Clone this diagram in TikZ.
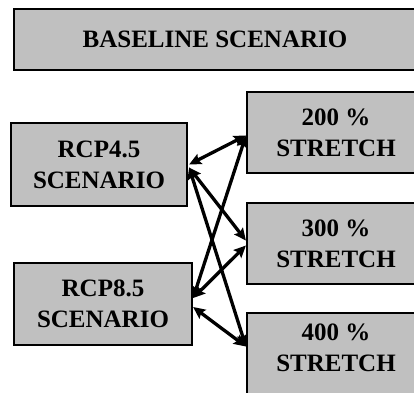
\documentclass[tikz,border=0pt]{standalone}
\usepackage{fontspec}
\setmainfont{Liberation Serif}
\usetikzlibrary{arrows.meta}

\begin{document}
\begin{tikzpicture}[x=1pt,y=-1pt,
	box/.style={draw=black,line width=2.2pt,fill={rgb,255:red,192;green,192;blue,192},
		inner sep=0pt,align=center,font=\fontsize{25}{31}\selectfont\bfseries},
	link/.style={line width=3.3pt,{Stealth[length=12pt,width=11pt,inset=2pt]}-{Stealth[length=12pt,width=11pt,inset=2pt]}}]
	\path[use as bounding box,clip] (0,0) rectangle (414,392);

	% baseline
	\node[box,minimum width=402pt,minimum height=61pt] (base) at (215,39.5) {BASELINE SCENARIO};

	% climate scenarios
	\node[box,minimum width=176pt,minimum height=83pt] (rcp45) at (99,164.5) {RCP4.5\\SCENARIO};
	\node[box,minimum width=178pt,minimum height=82pt] (rcp85) at (103,304) {RCP8.5\\SCENARIO};

	% stretch cases
	\node[box,minimum width=178pt,minimum height=81pt] (st200) at (336,132.5) {200 \%\\STRETCH};
	\node[box,minimum width=178pt,minimum height=81pt] (st300) at (336,243.5) {300 \%\\STRETCH};
	\node[box,minimum width=178pt,minimum height=81pt] (st400) at (336,353.5) {400 \%\\STRETCH\rule[-11pt]{0pt}{0pt}};

	% links from RCP4.5
	\draw[link] ([xshift=1pt]rcp45.east) -- ([yshift=-3pt]st200.west);
	\draw[link] ([xshift=1pt,yshift=-3pt]rcp45.east) -- ([yshift=3pt]st300.west);
	\draw[link] ([xshift=1pt,yshift=-3pt]rcp45.east) -- ([yshift=7pt]st400.west);

	% links from RCP8.5
	\draw[link] ([yshift=6pt]rcp85.east) -- ([yshift=-3pt]st200.west);
	\draw[link] ([yshift=6pt]rcp85.east) -- ([yshift=-2pt]st300.west);
	\draw[link] ([yshift=-3pt]rcp85.east) -- ([yshift=7pt]st400.west);
\end{tikzpicture}
\end{document}
